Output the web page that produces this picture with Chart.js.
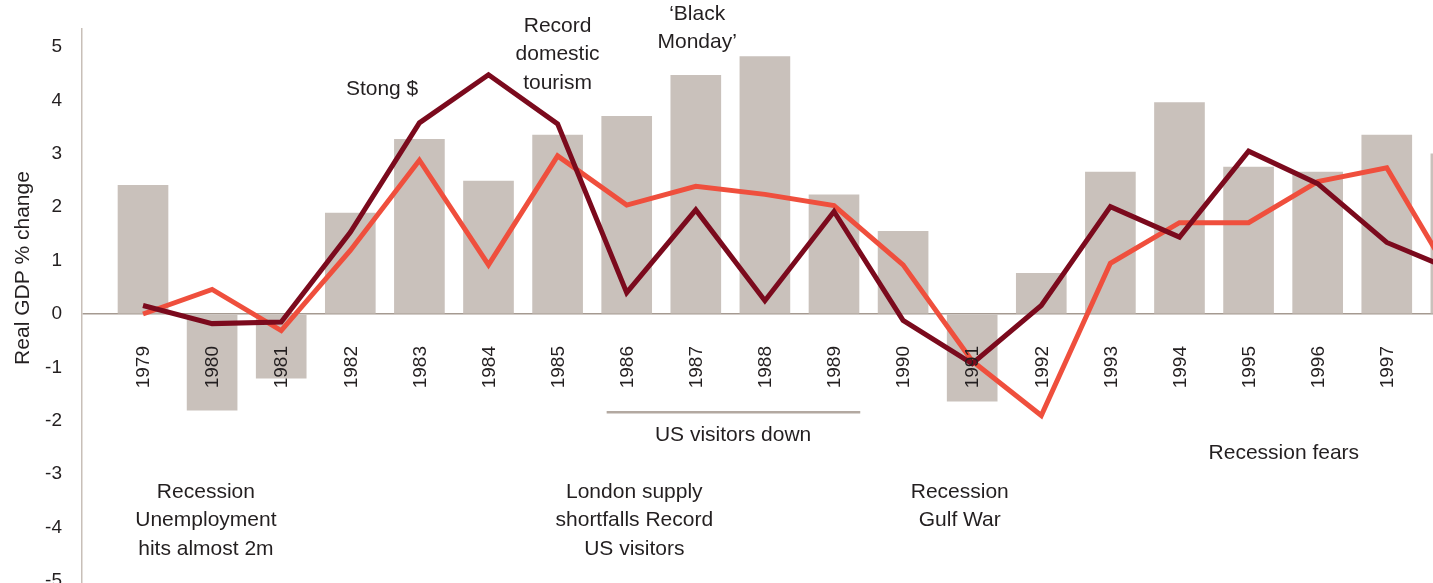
<!DOCTYPE html>
<html>
<head>
<meta charset="utf-8">
<script src="https://cdn.jsdelivr.net/npm/chart.js@4"></script>
<style>
  html, body { margin: 0; padding: 0; background: #fff; overflow: hidden; }
  #wrap { width: 1433px; height: 583px; }
</style>
</head>
<body>
<div id="wrap"><canvas id="myChart"></canvas></div>
<script>
const years = [1979, 1980, 1981, 1982, 1983, 1984, 1985, 1986, 1987, 1988,
               1989, 1990, 1991, 1992, 1993, 1994, 1995, 1996, 1997, 1998];
const gdpBars = [2.41, -1.8, -1.2, 1.89, 3.27, 2.49, 3.35, 3.7, 4.47, 4.82,
                 2.23, 1.55, -1.63, 0.76, 2.66, 3.96, 2.75, 2.66, 3.35, 3.0];
const darkLine = [0.16, -0.18, -0.15, 1.53, 3.58, 4.48, 3.56, 0.4, 1.95, 0.25,
                  1.92, -0.12, -0.93, 0.16, 2.01, 1.44, 3.05, 2.44, 1.34, 0.8];
const redLine = [0.0, 0.46, -0.31, 1.19, 2.88, 0.92, 2.96, 2.04, 2.39, 2.24,
                 2.03, 0.92, -0.88, -1.9, 0.95, 1.71, 1.71, 2.48, 2.74, 0.55];
const yTicks = [-5, -4, -3, -2, -1, 0, 1, 2, 3, 4, 5];
const yTitle = 'Real GDP % change';

// notes placed in data units: [x year, y value, lines]
const notes = [
  [1982.46, 4.21, ['Stong $']],
  [1985.0, 5.39, ['Record', 'domestic', 'tourism']],
  [1987.02, 5.62, ['\u2018Black', 'Monday\u2019']],
  [1987.54, -2.27, ['US visitors down']],
  [1979.91, -3.33, ['Recession', 'Unemployment', 'hits almost 2m']],
  [1986.11, -3.33, ['London supply', 'shortfalls Record', 'US visitors']],
  [1990.82, -3.33, ['Recession', 'Gulf War']],
  [1995.51, -2.6, ['Recession fears']]
];
const rule = [1985.71, 1989.38, -1.84];

const FONT = '"Liberation Sans", Arial, Helvetica, sans-serif';
const TEXT = '#231f20';

function pts(vals) {
  return years.map((y, i) => ({x: y, y: vals[i]}));
}

const extras = {
  id: 'extras',
  afterDatasetsDraw(chart) {
    const ctx = chart.ctx;
    const xs = chart.scales.x, ys = chart.scales.y;
    ctx.save();
    ctx.fillStyle = TEXT;

    // year labels, rotated, hanging under the zero line
    ctx.font = '19px ' + FONT;
    ctx.textAlign = 'right';
    ctx.textBaseline = 'middle';
    const y0 = ys.getPixelForValue(0);
    years.forEach(yr => {
      ctx.save();
      ctx.translate(xs.getPixelForValue(yr) + 1, y0 + 32);
      ctx.rotate(-Math.PI / 2);
      ctx.fillText(String(yr), 0, 0);
      ctx.restore();
    });

    // axis title
    ctx.save();
    ctx.font = '21px ' + FONT;
    ctx.textAlign = 'center';
    ctx.translate(23, 268);
    ctx.rotate(-Math.PI / 2);
    ctx.fillText(yTitle, 0, 0);
    ctx.restore();

    // notes
    ctx.font = '21px ' + FONT;
    ctx.textAlign = 'center';
    notes.forEach(n => {
      const px = xs.getPixelForValue(n[0]);
      const py = ys.getPixelForValue(n[1]);
      n[2].forEach((t, i) => ctx.fillText(t, px, py + i * 28.5));
    });

    // rule over "US visitors down"
    ctx.strokeStyle = '#b3a9a1';
    ctx.lineWidth = 2.5;
    ctx.beginPath();
    const ry = ys.getPixelForValue(rule[2]);
    ctx.moveTo(xs.getPixelForValue(rule[0]), ry);
    ctx.lineTo(xs.getPixelForValue(rule[1]), ry);
    ctx.stroke();
    ctx.restore();
  }
};

new Chart(document.getElementById('myChart'), {
  data: {
    datasets: [
      {
        type: 'line',
        label: 'Series B',
        data: pts(darkLine),
        borderColor: '#7b0a1d',
        borderWidth: 5,
        pointRadius: 0,
        tension: 0,
        order: 1
      },
      {
        type: 'line',
        label: 'Series A',
        data: pts(redLine),
        borderColor: '#ef4f3d',
        borderWidth: 5,
        pointRadius: 0,
        tension: 0,
        order: 2
      },
      {
        type: 'bar',
        label: 'GDP',
        data: pts(gdpBars),
        backgroundColor: '#c9c1bb',
        barThickness: 50,
        order: 3
      }
    ]
  },
  options: {
    responsive: true,
    maintainAspectRatio: false,
    animation: false,
    layout: { padding: { top: 29, right: 0, bottom: 0, left: 0 } },
    plugins: { legend: { display: false }, tooltip: { enabled: false } },
    scales: {
      x: {
        type: 'linear',
        min: 1978.117,
        max: 1997.669,
        offset: false,
        display: false,
        ticks: { display: false },
        afterFit: s => { s.height = 0; }
      },
      y: {
        min: -5.037,
        max: 5.337,
        afterFit: s => { s.width = 82; s.paddingTop = 0; s.paddingBottom = 0; },
        afterBuildTicks: s => { s.ticks = yTicks.map(v => ({value: v})); },
        border: { display: true, color: '#c8bfb8', width: 1.5 },
        grid: {
          drawTicks: false,
          lineWidth: 1.5,
          color: c => c.tick && c.tick.value === 0 ? '#a59a91' : 'rgba(0,0,0,0)'
        },
        ticks: {
          padding: 20,
          color: TEXT,
          font: { family: FONT, size: 19 }
        }
      }
    }
  },
  plugins: [extras]
});
</script>
</body>
</html>
